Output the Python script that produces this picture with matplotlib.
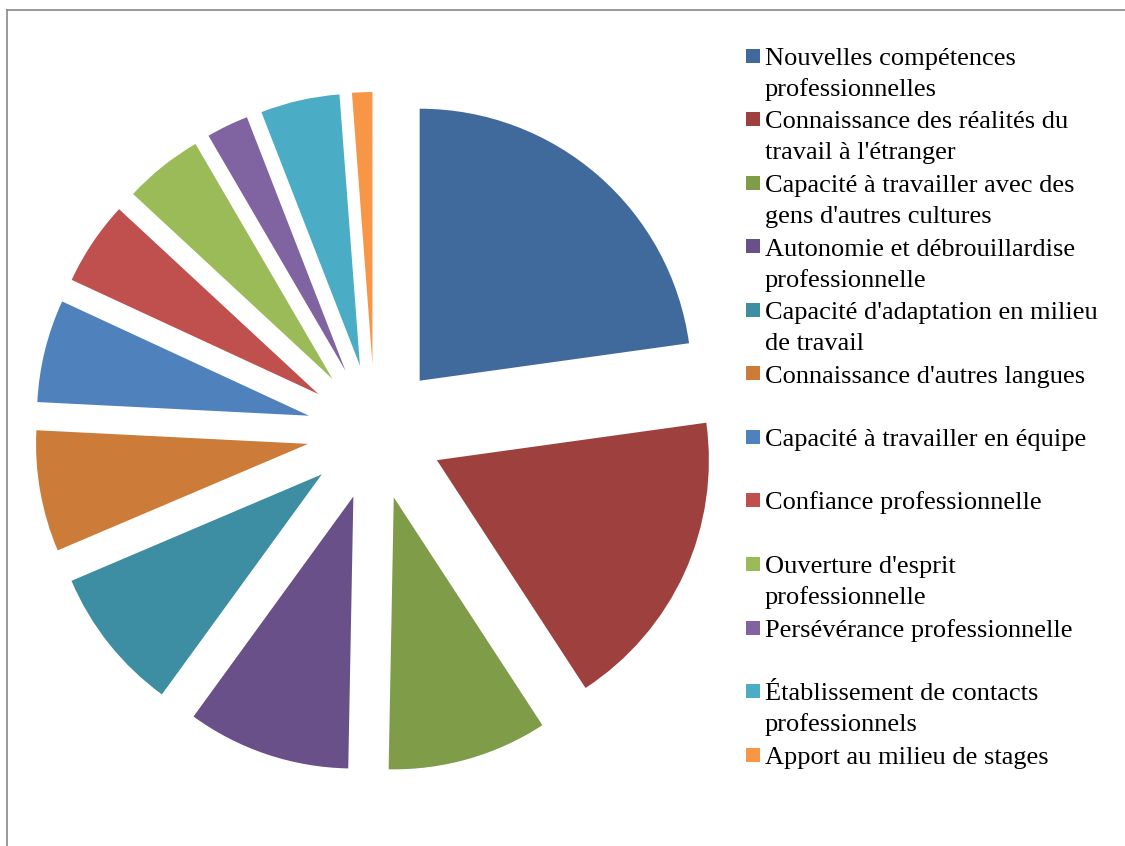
import numpy as np
import matplotlib.pyplot as plt
from matplotlib.patches import Rectangle
from matplotlib.lines import Line2D

# data
labels = [
    ["Nouvelles compétences", "professionnelles"],
    ["Connaissance des réalités du", "travail à l'étranger"],
    ["Capacité à travailler avec des", "gens d'autres cultures"],
    ["Autonomie et débrouillardise", "professionnelle"],
    ["Capacité d'adaptation en milieu", "de travail"],
    ["Connaissance d'autres langues"],
    ["Capacité à travailler en équipe"],
    ["Confiance professionnelle"],
    ["Ouverture d'esprit", "professionnelle"],
    ["Persévérance professionnelle"],
    ["Établissement de contacts", "professionnels"],
    ["Apport au milieu de stages"],
]
values = [22.8, 18.0, 9.5, 9.7, 8.6, 7.2, 6.1, 5.0, 4.7, 2.5, 4.7, 1.2]
colors = ["#416A9C", "#9E413E", "#7F9C48", "#6A5088", "#3D8DA3", "#CC7B38",
          "#4F81BD", "#C0504D", "#9BBB59", "#8064A2", "#4BACC6", "#F79646"]

W, H = 1125, 846
fig = plt.figure(figsize=(W / 100, H / 100), dpi=100)
ax = fig.add_axes([0, 0, 1, 1])

# pie centre and radius in pixels
cx, cy, r = 375, 432, 272
ax.pie(values, colors=colors, startangle=90, counterclock=False,
       explode=[0.25] * len(values), wedgeprops=dict(linewidth=0))
ax.set_xlim(-cx / r, (W - cx) / r)
ax.set_ylim(-(H - cy) / r, cy / r)
ax.set_aspect("auto")
ax.axis("off")

# thin grey frame along the top and left edges
fig.add_artist(Line2D([7 / W, 7 / W], [0, 1 - 10 / H], color="#888888", lw=1.2))
fig.add_artist(Line2D([7 / W, 1], [1 - 10 / H, 1 - 10 / H], color="#888888", lw=1.2))

# legend drawn by hand: square aligned with the first line of each entry
for i, (lines, c) in enumerate(zip(labels, colors)):
    base = 65 + 63.5 * i
    fig.add_artist(Rectangle((746 / W, 1 - (base - 2) / H), 14 / W, 14 / H,
                             facecolor=c, edgecolor="none"))
    for j, line in enumerate(lines):
        fig.text(765 / W, 1 - (base + 31 * j) / H, line, fontsize=19,
                 family="Liberation Serif", va="baseline", ha="left")

plt.savefig("out.png", dpi=100)
